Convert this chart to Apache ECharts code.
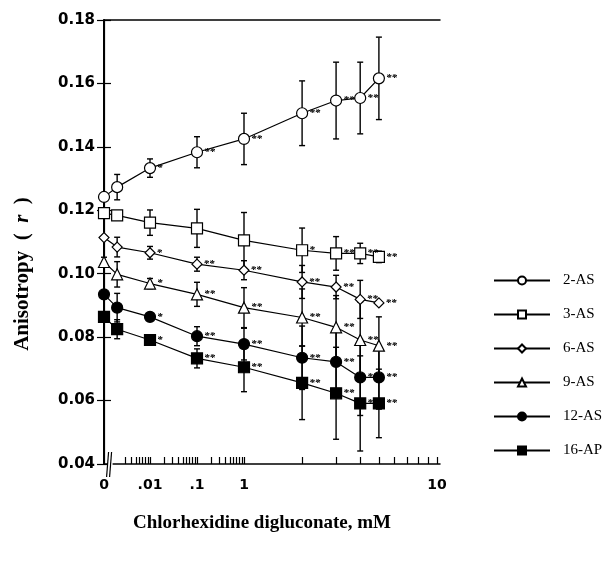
<!DOCTYPE html>
<html>
<head>
<meta charset="utf-8">
<script src="https://cdn.jsdelivr.net/npm/echarts@6/dist/echarts.min.js"></script>
<style>html,body{margin:0;padding:0;background:#fff;}#c{width:606px;height:563px;}</style>
</head>
<body>
<div id="c"></div>
<script>
// ---- data ----
const concentrations = [0, 0.002, 0.01, 0.1, 1, 2, 3, 4, 5];   // mM
const seriesNames = ['2-AS', '3-AS', '6-AS', '9-AS', '12-AS', '16-AP'];
const as2  = [0.1242, 0.1273, 0.1333, 0.1383, 0.1425, 0.1506, 0.1546, 0.1554, 0.1616];
const as3  = [0.1191, 0.1184, 0.1161, 0.1143, 0.1105, 0.1074, 0.1064, 0.1064, 0.1053];
const as6  = [0.1114, 0.1084, 0.1066, 0.1030, 0.1011, 0.0974, 0.0958, 0.0919, 0.0908];
const as9  = [0.1037, 0.0998, 0.0969, 0.0935, 0.0893, 0.0862, 0.0831, 0.0791, 0.0773];
const as12 = [0.0935, 0.0893, 0.0864, 0.0803, 0.0778, 0.0735, 0.0722, 0.0673, 0.0673];
const ap16 = [0.0864, 0.0825, 0.0791, 0.0733, 0.0705, 0.0656, 0.0623, 0.0591, 0.0591];
const err2  = [0.0006, 0.0040, 0.0029, 0.0049, 0.0081, 0.0102, 0.0121, 0.0113, 0.0130];
const err3  = [0.0005, 0.0010, 0.0040, 0.0060, 0.0088, 0.0070, 0.0053, 0.0032, 0.0018];
const err6  = [0.0005, 0.0031, 0.0020, 0.0022, 0.0030, 0.0052, 0.0037, 0.0060, 0.0005];
const err9  = [0.0015, 0.0040, 0.0016, 0.0038, 0.0063, 0.0090, 0.0100, 0.0120, 0.0091];
const err12 = [0.0008, 0.0045, 0.0012, 0.0030, 0.0050, 0.0100, 0.0110, 0.0120, 0.0100];
const err16 = [0.0008, 0.0030, 0.0010, 0.0030, 0.0077, 0.0116, 0.0145, 0.0150, 0.0108];
const stars2  = ['', '', '*', '**', '**', '**', '**', '**', '**'];
const stars3  = ['', '', '', '', '', '*', '**', '**', '**'];
const stars6  = ['', '', '*', '**', '**', '**', '**', '**', '**'];
const stars9  = ['', '', '*', '**', '**', '**', '**', '**', '**'];
const stars12 = ['', '', '*', '**', '**', '**', '**', '**', '**'];
const stars16 = ['', '', '*', '**', '**', '**', '**', '**', '**'];
const xTickConc   = [0, 0.01, 0.1, 1, 10];
const xTickLabels = ['0', '.01', '.1', '1', '10'];

// broken axis: 0, then compressed decades up to 1 mM, then a wide decade 1-10 mM
function pos(c) {
  if (c <= 0) return 0;
  if (c <= 1) return 140 + 47 * Math.log10(c);
  return 140 + 193 * Math.log10(c);
}
const minorTickConc = [];
[0.001, 0.01, 0.1, 1].forEach(function (d) {
  for (let k = (d === 0.001 ? 3 : 2); k <= 9; k++) minorTickConc.push(k * d);
});
minorTickConc.push(0.01, 0.1, 1, 10);

const values = [as2, as3, as6, as9, as12, ap16];
const errs = [err2, err3, err6, err9, err12, err16];
const stars = [stars2, stars3, stars6, stars9, stars12, stars16];
const symbols = ['circle', 'rect', 'diamond', 'triangle', 'circle', 'rect'];
const sizes = [11, 11, 10, 11, 11, 11];
const fills = ['#fff', '#fff', '#fff', '#fff', '#000', '#000'];

const series = [];
seriesNames.forEach(function (name, i) {
  series.push({
    name: name + ' err',
    type: 'custom',
    z: 1,
    clip: false,
    encode: { x: 0, y: [1, 2] },
    data: concentrations.map(function (c, j) { return [pos(c), values[i][j] - errs[i][j], values[i][j] + errs[i][j]]; }),
    renderItem: function (params, api) {
      const x = api.value(0);
      const p1 = api.coord([x, api.value(1)]);
      const p2 = api.coord([x, api.value(2)]);
      const w = 3;
      const st = { stroke: '#000', lineWidth: 1.4 };
      return { type: 'group', children: [
        { type: 'line', shape: { x1: p1[0], y1: p1[1], x2: p2[0], y2: p2[1] }, style: st },
        { type: 'line', shape: { x1: p1[0] - w, y1: p1[1], x2: p1[0] + w, y2: p1[1] }, style: st },
        { type: 'line', shape: { x1: p2[0] - w, y1: p2[1], x2: p2[0] + w, y2: p2[1] }, style: st }
      ] };
    },
    silent: true
  });
  series.push({
    name: name,
    type: 'line',
    z: 3,
    symbol: symbols[i],
    symbolSize: sizes[i],
    showAllSymbol: true,
    itemStyle: { color: fills[i], borderColor: '#000', borderWidth: 1.2 },
    lineStyle: { color: '#000', width: 1.2 },
    data: concentrations.map(function (c, j) { return { value: [pos(c), values[i][j]], stars: stars[i][j] }; }),
    label: {
      show: true,
      position: 'right',
      distance: 1,
      offset: i === 0 ? [2, -19] : [1, -9],
      formatter: function (p) { return p.data.stars; },
      fontFamily: 'Liberation Serif',
      fontStyle: 'italic',
      fontWeight: 'bold',
      fontSize: 11,
      color: '#000'
    },
    labelLayout: { hideOverlap: false }
  });
});
// axis break marks
series.push({
  name: 'break',
  type: 'custom',
  z: 4,
  clip: false,
  silent: true,
  data: [[pos(0.002) / 2, 0.04]],
  renderItem: function (params, api) {
    const p = api.coord([api.value(0), api.value(1)]);
    const st = { stroke: '#000', lineWidth: 1.2 };
    return { type: 'group', children: [
      { type: 'rect', shape: { x: p[0] - 3, y: p[1] - 2, width: 5, height: 4 }, style: { fill: '#fff' } },
      { type: 'line', shape: { x1: p[0] - 4, y1: p[1] + 13, x2: p[0] - 2, y2: p[1] - 12 }, style: st },
      { type: 'line', shape: { x1: p[0] - 1, y1: p[1] + 13, x2: p[0] + 1, y2: p[1] - 12 }, style: st }
    ] };
  }
});

const chart = echarts.init(document.getElementById('c'), null, { renderer: 'canvas' });
chart.setOption({
  animation: false,
  backgroundColor: '#fff',
  grid: { left: 104, top: 20, width: 336, height: 444 },
  xAxis: [{
    type: 'value', min: 0, max: pos(10) + 3, position: 'bottom',
    name: 'Chlorhexidine digluconate, mM', nameLocation: 'middle', nameGap: 50,
    nameTextStyle: { fontFamily: 'Liberation Serif', fontWeight: 'bold', fontSize: 19, color: '#000', padding: [0, 20, 0, 0] },
    axisLine: { show: true, lineStyle: { color: '#000', width: 1.5 } },
    axisTick: { show: true, inside: true, length: 7, customValues: minorTickConc.map(pos), lineStyle: { color: '#000', width: 1.2 } },
    axisLabel: {
      show: true, margin: 14, customValues: xTickConc.map(pos),
      formatter: function (v) {
        for (let k = 0; k < xTickConc.length; k++) if (Math.abs(pos(xTickConc[k]) - v) < 0.5) return xTickLabels[k];
        return '';
      },
      fontFamily: 'DejaVu Sans', fontWeight: 'bold', fontSize: 14, color: '#000'
    },
    splitLine: { show: false }
  }, {
    type: 'value', min: 0, max: pos(10) + 3, position: 'top',
    axisLine: { show: true, lineStyle: { color: '#000', width: 1.5 } },
    axisTick: { show: false }, axisLabel: { show: false }, splitLine: { show: false }
  }],
  yAxis: [{
    type: 'value', min: 0.04, max: 0.18, interval: 0.02, position: 'left',
    axisLine: { show: true, lineStyle: { color: '#000', width: 2 } },
    axisTick: { show: true, inside: true, length: 7, lineStyle: { color: '#000', width: 1.2 } },
    axisLabel: { margin: 9, formatter: function (v) { return v.toFixed(2); }, fontFamily: 'DejaVu Sans', fontWeight: 'bold', fontSize: 15, color: '#000' },
    splitLine: { show: false }
  }, {
    type: 'value', min: 0.04, max: 0.18, interval: 0.02, position: 'right',
    axisLine: { show: true, lineStyle: { color: '#000', width: 1.2 } },
    axisTick: { show: true, inside: true, length: 7, lineStyle: { color: '#000', width: 1.2 } },
    axisLabel: { show: false }, splitLine: { show: false }
  }],
  legend: {
    data: seriesNames,
    orient: 'vertical',
    left: 488, top: 268,
    itemWidth: 56, itemHeight: 10, itemGap: 19,
    textStyle: { fontFamily: 'Liberation Serif', fontSize: 15, color: '#000', padding: [0, 0, 0, 8] },
    selectedMode: false
  },
  graphic: [{
    type: 'text',
    x: 23, y: 274,
    rotation: Math.PI / 2,
    style: {
      text: 'Anisotropy  (  {i|r}  )',
      rich: { i: { fontFamily: 'Liberation Serif', fontStyle: 'italic', fontWeight: 'bold', fontSize: 21 } },
      font: 'bold 21px "Liberation Serif"',
      fill: '#000',
      align: 'center',
      verticalAlign: 'middle'
    }
  }],
  series: series
});
</script>
</body>
</html>
